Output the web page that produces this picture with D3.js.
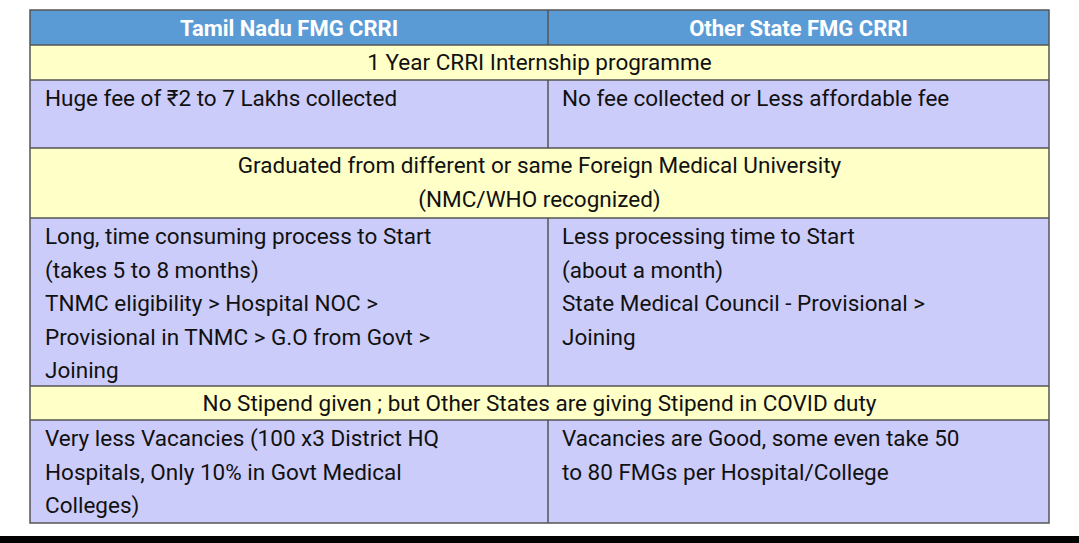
<!DOCTYPE html>
<html><head><meta charset="utf-8">
<script src="https://cdn.jsdelivr.net/npm/d3@7"></script>
<style>body{margin:0;background:#fff;}svg{display:block;}</style>
</head><body>
<svg id="c" width="1079" height="543"></svg>
<script>
const headers = ["Tamil Nadu FMG CRRI", "Other State FMG CRRI"];
const rowKinds = ["span", "pair", "span", "pair", "span", "pair"];
const rowHeights = [35, 68, 70, 168, 34, 103];
const spanTexts = [
  ["1 Year CRRI Internship programme"],
  ["Graduated from different or same Foreign Medical University", "(NMC/WHO recognized)"],
  ["No Stipend given ; but Other States are giving Stipend in COVID duty"]
];
const leftTexts = [
  ["Huge fee of ₹2 to 7 Lakhs collected"],
  ["Long, time consuming process to Start", "(takes 5 to 8 months)", "TNMC eligibility > Hospital NOC >", "Provisional in TNMC > G.O from Govt >", "Joining"],
  ["Very less Vacancies (100 x3 District HQ", "Hospitals, Only 10% in Govt Medical", "Colleges)"]
];
const rightTexts = [
  ["No fee collected or Less affordable fee"],
  ["Less processing time to Start", "(about a month)", "State Medical Council - Provisional >", "Joining"],
  ["Vacancies are Good, some even take 50", "to 80 FMGs per Hospital/College"]
];

(function () {
const svg = d3.select("#c");
const x0 = 30, x1 = 1049, xm = 548, topY = 10, headH = 35, lh = 33.5;
const font = "Roboto, 'Noto Sans', sans-serif";
const x = d3.scaleLinear().domain([0, 1]).range([x0, x1]);

svg.append("rect").attr("x", x0).attr("y", topY).attr("width", x1 - x0).attr("height", headH).attr("fill", "#5b9bd5");
headers.forEach((h, i) => {
  svg.append("text").attr("x", i ? (xm + x1) / 2 : (x0 + xm) / 2).attr("y", topY + headH / 2 + 8)
    .attr("text-anchor", "middle").attr("font-family", font).attr("font-weight", "bold")
    .attr("font-size", 22).attr("fill", "#fff").text(h);
});
svg.append("line").attr("x1", xm).attr("x2", xm).attr("y1", topY).attr("y2", topY + headH).attr("stroke", "#555").attr("stroke-width", 1.5);

let y = topY + headH, si = 0, pi = 0;
rowKinds.forEach((k, r) => {
  const h = rowHeights[r];
  const g = svg.append("g");
  g.append("rect").attr("x", x0).attr("y", y).attr("width", x1 - x0).attr("height", h)
    .attr("fill", k === "span" ? "#ffffc8" : "#ccccfa");
  if (k === "span") {
    spanTexts[si++].forEach((t, j) => g.append("text").attr("x", x(0.5)).attr("y", y + 25 + j * lh)
      .attr("text-anchor", "middle").attr("font-family", font).attr("font-size", 22.5).attr("fill", "#111").text(t));
  } else {
    leftTexts[pi].forEach((t, j) => g.append("text").attr("x", 45).attr("y", y + 26 + j * lh)
      .attr("font-family", font).attr("font-size", 22.5).attr("fill", "#111").text(t));
    rightTexts[pi].forEach((t, j) => g.append("text").attr("x", 562).attr("y", y + 26 + j * lh)
      .attr("font-family", font).attr("font-size", 22.5).attr("fill", "#111").text(t));
    g.append("line").attr("x1", xm).attr("x2", xm).attr("y1", y).attr("y2", y + h).attr("stroke", "#555").attr("stroke-width", 1.5);
    pi++;
  }
  svg.append("line").attr("x1", x0).attr("x2", x1).attr("y1", y).attr("y2", y).attr("stroke", "#555").attr("stroke-width", 1.5);
  y += h;
});
svg.append("rect").attr("x", x0).attr("y", topY).attr("width", x1 - x0).attr("height", y - topY)
  .attr("fill", "none").attr("stroke", "#555").attr("stroke-width", 1.5);
svg.append("rect").attr("x", 0).attr("y", 536).attr("width", 1079).attr("height", 7).attr("fill", "#000");
})();
</script>
</body></html>
